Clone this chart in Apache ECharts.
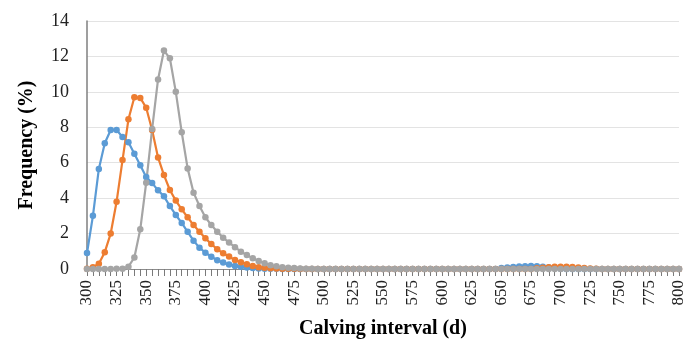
<!DOCTYPE html>
<html>
<head>
<meta charset="utf-8">
<script src="https://cdn.jsdelivr.net/npm/echarts@6/dist/echarts.min.js"></script>
<style>html,body{margin:0;padding:0;background:#fff}#c{width:686px;height:343px}</style>
</head>
<body>
<div id="c"></div>
<script>
var days = [300,305,310,315,320,325,330,335,340,345,350,355,360,365,370,375,380,385,390,395,
400,405,410,415,420,425,430,435,440,445,450,455,460,465,470,475,480,485,490,495,
500,505,510,515,520,525,530,535,540,545,550,555,560,565,570,575,580,585,590,595,
600,605,610,615,620,625,630,635,640,645,650,655,660,665,670,675,680,685,690,695,
700,705,710,715,720,725,730,735,740,745,750,755,760,765,770,775,780,785,790,795,800];

var seriesBlue = [0.9,3.0,5.65,7.1,7.85,7.85,7.45,7.15,6.5,5.85,
5.2,4.85,4.45,4.1,3.55,3.05,2.6,2.1,1.6,1.2,
0.92,0.69,0.5,0.36,0.26,0.17,0.12,0.08,0.05,0.03,
0.02,0.01,0.01,0,0,0,0,0,0,0,
0,0,0,0,0,0,0,0,0,0,
0,0,0,0,0,0,0,0,0,0,
0,0,0,0,0,0,0,0,0,0,
0.05,0.08,0.11,0.14,0.16,0.17,0.16,0.13,0.09,0.05,
0.02,0,0,0,0,0,0,0,0,0,
0,0,0,0,0,0,0,0,0,0,0];

var seriesOrange = [0.02,0.1,0.3,0.95,2.0,3.8,6.15,8.45,9.7,9.66,
9.1,7.85,6.3,5.3,4.46,3.86,3.37,2.92,2.48,2.1,
1.73,1.41,1.11,0.89,0.7,0.51,0.38,0.27,0.17,0.1,
0.07,0.04,0.03,0.02,0.01,0.01,0,0,0,0,
0,0,0,0,0,0,0,0,0,0,
0,0,0,0,0,0,0,0,0,0,
0,0,0,0,0,0,0,0,0,0,
0,0,0,0,0,0,0.04,0.07,0.1,0.12,
0.13,0.13,0.11,0.09,0.06,0.03,0.01,0,0,0,
0,0,0,0,0,0,0,0,0,0,0];

var seriesGray = [0,0,0,0,0,0.01,0.02,0.13,0.65,2.24,
4.87,7.9,10.7,12.33,11.9,10.0,7.72,5.68,4.31,3.56,
2.92,2.48,2.1,1.77,1.49,1.23,0.98,0.79,0.6,0.45,
0.32,0.21,0.15,0.1,0.07,0.05,0.03,0.02,0.01,0,
0,0,0,0,0,0,0,0,0,0,
0,0,0,0,0,0,0,0,0,0,
0,0,0,0,0,0,0,0,0,0,
0,0,0,0,0,0,0,0,0,0,
0,0,0,0,0,0,0,0,0,0,
0,0,0,0,0,0,0,0,0,0,0];

var yTicks = {min: 0, max: 14, interval: 2};

var font = '"Liberation Serif","Times New Roman",serif';
function mk(name, data, color) {
  return {
    name: name, type: 'line', data: data,
    symbol: 'circle', symbolSize: 6.5, showAllSymbol: true,
    itemStyle: {color: color},
    lineStyle: {color: color, width: 2.2},
    animation: false
  };
}
var chart = echarts.init(document.getElementById('c'), null, {renderer: 'canvas'});
chart.setOption({
  animation: false,
  grid: {left: 87, right: 7, top: 21, bottom: 74, containLabel: false, outerBoundsMode: 'none'},
  xAxis: {
    type: 'category', data: days, boundaryGap: false,
    name: 'Calving interval (d)', nameLocation: 'middle', nameGap: 50,
    nameTextStyle: {fontFamily: font, fontWeight: 'bold', fontSize: 20, color: '#000'},
    axisLine: {lineStyle: {color: '#8c8c8c', width: 1}},
    axisTick: {show: true, interval: 0, length: 7, lineStyle: {color: '#7a7a7a', width: 1}},
    axisLabel: {interval: 4, rotate: 90, margin: 11, fontFamily: font, fontSize: 17, color: '#222'},
    splitLine: {show: false}
  },
  yAxis: {
    type: 'value', min: yTicks.min, max: yTicks.max, interval: yTicks.interval,
    name: 'Frequency (%)', nameLocation: 'middle', nameGap: 50,
    nameTextStyle: {fontFamily: font, fontWeight: 'bold', fontSize: 20, color: '#000'},
    axisLine: {show: true, lineStyle: {color: '#7f7f7f', width: 1.5}},
    axisTick: {show: false},
    axisLabel: {margin: 18, fontFamily: font, fontSize: 18, color: '#222'},
    splitLine: {lineStyle: {color: '#e3e3e3', width: 1}}
  },
  series: [
    mk('A', seriesBlue, '#5B9BD5'),
    mk('B', seriesOrange, '#ED7D31'),
    mk('C', seriesGray, '#A5A5A5')
  ]
});
</script>
</body>
</html>
